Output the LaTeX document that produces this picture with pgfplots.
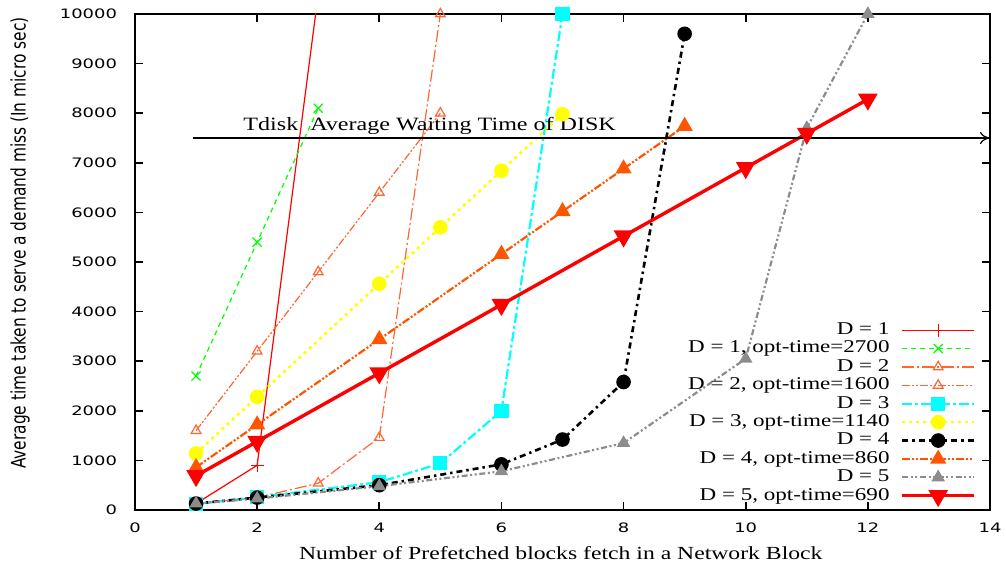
\documentclass[border=0pt]{standalone}
\usepackage{fontspec}
\setmainfont{Liberation Serif}[FakeStretch=1.28]
\newfontfamily\tickfont{DejaVu Sans}[FakeStretch=1.38]
\newfontfamily\labfont{DejaVu Sans}[FakeStretch=0.77]
\usepackage{pgfplots}
\pgfplotsset{compat=1.18}
\usetikzlibrary{arrows.meta,calc}

\definecolor{dtwo}{RGB}{255,102,51}
\definecolor{dfouropt}{RGB}{255,85,0}
\definecolor{dgray}{RGB}{140,140,140}
\definecolor{dcyan}{RGB}{0,255,255}
\definecolor{dyellow}{RGB}{255,255,0}
\definecolor{dgreen}{RGB}{0,255,0}
\definecolor{dred}{RGB}{255,0,0}

\begin{document}
\begin{tikzpicture}
\begin{axis}[
    name=ax,
    scale only axis,
    width=427.5pt,
    height=248pt,
    xmin=0, xmax=14,
    ymin=0, ymax=10000,
    xtick={0,2,...,14},
    ytick={0,1000,...,10000},
    scaled y ticks=false,
    tick align=inside,
    major tick length=4pt,
    every tick/.style={black, line width=0.8pt},
    axis line style={line width=0.9pt},
    ticklabel style={font=\fontsize{6.5}{8}\tickfont},
    /pgf/number format/assume math mode=true,
    /pgf/number format/1000 sep={},
    yticklabel style={xshift=-5.5pt},
    xticklabel style={yshift=-3pt},
    xlabel={Number of Prefetched blocks fetch in a Network Block},
    xlabel style={at={(axis description cs:0.498,-0.087)}, anchor=center, font=\fontsize{9.25}{10}\selectfont},
    ylabel={Average time taken to serve a demand miss (In micro sec)},
    ylabel style={at={(axis description cs:-0.1345,0.538)}, anchor=center, font=\fontsize{10}{12}\labfont},
    legend cell align=right,
    legend plot pos=right,
    legend image code/.code={\draw[mark repeat=2,mark phase=2,#1] plot coordinates {(0pt,0pt) (18pt,0pt) (36pt,0pt)};},
    legend style={at={(0.991,0.39)}, anchor=north east, draw=none, fill=none,
        font=\fontsize{9}{10}\selectfont, row sep=0pt, column sep=5pt,
        nodes={inner sep=0.5pt, text height=6.3pt, text depth=1.9pt}},
]
% D = 1
\addplot[color=dred, line width=0.6pt, mark=+, mark size=3.2pt] coordinates {
    (1,130) (2,900) (3,10400)
};
\addlegendentry{D = 1}
% D = 1, opt-time=2700
\addplot[color=dgreen, line width=0.6pt, dash pattern=on 2.5pt off 2pt, mark=x, mark size=3.2pt, mark options={solid}] coordinates {
    (1,2700) (2,5400) (3,8100)
};
\addlegendentry{D = 1, opt-time=2700}
% D = 2
\addplot[color=dtwo, line width=0.6pt, dash pattern=on 6pt off 1.5pt on 1pt off 1.5pt, mark=triangle, mark size=2.8pt, mark options={solid}] coordinates {
    (1,130) (2,250) (3,540) (4,1460) (5,10000)
};
\addlegendentry{D = 2}
% D = 2, opt-time=1600
\addplot[color=dtwo, line width=0.6pt, dash pattern=on 4pt off 1pt on 1pt off 1pt on 1pt off 1pt, mark=triangle, mark size=2.8pt, mark options={solid}] coordinates {
    (1,1600) (2,3200) (3,4800) (4,6400) (5,8000)
};
\addlegendentry{D = 2, opt-time=1600}
% D = 3
\addplot[color=dcyan, line width=1.1pt, dash pattern=on 5pt off 1.5pt on 1.5pt off 1.5pt, mark=square*, mark size=3pt, mark options={solid}] coordinates {
    (1,120) (2,260) (4,560) (5,940) (6,2000) (7,10000)
};
\addlegendentry{D = 3}
% D = 3, opt-time=1140
\addplot[color=dyellow, line width=1.3pt, dash pattern=on 1.5pt off 2pt, mark=*, mark size=3pt, mark options={solid}] coordinates {
    (1,1140) (2,2280) (4,4560) (5,5700) (6,6840) (7,7980)
};
\addlegendentry{D = 3, opt-time=1140}
% D = 4
\addplot[color=black, line width=1.3pt, dash pattern=on 3pt off 2pt on 1.2pt off 2pt, mark=*, mark size=3pt, mark options={solid}] coordinates {
    (1,130) (2,250) (4,500) (6,920) (7,1420) (8,2580) (9,9600)
};
\addlegendentry{D = 4}
% D = 4, opt-time=860
\addplot[color=dfouropt, line width=1.1pt, dash pattern=on 4pt off 1pt on 1pt off 1pt on 1pt off 1pt, mark=triangle*, mark size=3.6pt, mark options={solid}] coordinates {
    (1,860) (2,1720) (4,3440) (6,5160) (7,6020) (8,6880) (9,7740)
};
\addlegendentry{D = 4, opt-time=860}
% D = 5
\addplot[color=dgray, line width=1.1pt, dash pattern=on 3pt off 1.3pt on 1pt off 1.3pt on 1pt off 1.3pt, mark=triangle*, mark size=2.8pt, mark options={solid}] coordinates {
    (1,130) (2,230) (4,480) (6,780) (8,1350) (10,3050) (11,7700) (12,10000)
};
\addlegendentry{D = 5}
% D = 5, opt-time=690
\addplot[color=dred, line width=1.7pt, mark=triangle*, mark size=4pt, mark options={solid, rotate=180}] coordinates {
    (1,690) (2,1380) (4,2760) (6,4140) (8,5520) (10,6900) (11,7590) (12,8280)
};
\addlegendentry{D = 5, opt-time=690}

\draw[line width=0.6pt, -{To[length=5pt,width=6pt]}] (axis cs:0.95,7500) -- (axis cs:14,7500);
\node[anchor=base west, inner sep=0pt, font=\fontsize{9.4}{10}\selectfont] at (axis cs:1.77,7660) {Tdisk\ \ Average Waiting Time of DISK};
\end{axis}
\pgfresetboundingbox
\path[use as bounding box] ($(ax.south west)+(-67.5pt,-30pt)$) rectangle ($(ax.north east)+(8pt,7pt)$);
\end{tikzpicture}
\end{document}
